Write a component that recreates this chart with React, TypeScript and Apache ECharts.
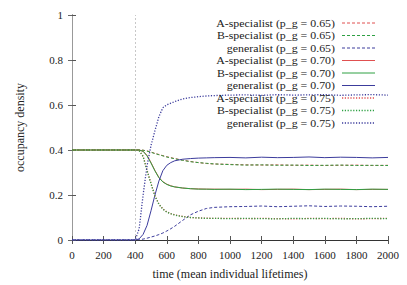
import React, { useEffect, useRef } from "react";
import * as echarts from "echarts";

const T = [0, 400, 425, 450, 475, 500, 525, 550, 575, 600, 625, 650, 700, 750, 800, 850, 900, 1000, 1100, 1200, 1300, 1400, 1500, 1600, 1700, 1800, 1900, 2000];

const S65A = [0.4, 0.4, 0.4, 0.399, 0.396, 0.391, 0.385, 0.38, 0.375, 0.37, 0.366, 0.362, 0.355, 0.349, 0.344, 0.34, 0.338, 0.336, 0.334, 0.333, 0.334, 0.332, 0.333, 0.331, 0.332, 0.333, 0.331, 0.332];
const S65B = [0.4, 0.4, 0.4, 0.399, 0.395, 0.39, 0.384, 0.379, 0.374, 0.369, 0.365, 0.361, 0.354, 0.348, 0.344, 0.341, 0.338, 0.335, 0.333, 0.334, 0.332, 0.333, 0.331, 0.332, 0.333, 0.331, 0.332, 0.331];
const G65 = [0, 0, 0.001, 0.004, 0.008, 0.013, 0.018, 0.024, 0.031, 0.04, 0.05, 0.061, 0.087, 0.112, 0.128, 0.14, 0.145, 0.148, 0.149, 0.151, 0.148, 0.15, 0.152, 0.149, 0.151, 0.15, 0.148, 0.15];

const S70A = [0.4, 0.4, 0.4, 0.395, 0.376, 0.344, 0.309, 0.278, 0.259, 0.248, 0.241, 0.236, 0.231, 0.228, 0.227, 0.226, 0.226, 0.225, 0.226, 0.224, 0.225, 0.226, 0.224, 0.225, 0.226, 0.224, 0.225, 0.225];
const S70B = [0.4, 0.4, 0.4, 0.394, 0.374, 0.342, 0.307, 0.277, 0.258, 0.247, 0.24, 0.236, 0.231, 0.228, 0.226, 0.226, 0.225, 0.226, 0.224, 0.225, 0.226, 0.225, 0.224, 0.226, 0.225, 0.224, 0.226, 0.225];
const G70 = [0, 0, 0.005, 0.025, 0.065, 0.13, 0.2, 0.262, 0.308, 0.332, 0.344, 0.352, 0.359, 0.362, 0.364, 0.365, 0.366, 0.367, 0.365, 0.368, 0.366, 0.367, 0.369, 0.366, 0.368, 0.367, 0.365, 0.367];

const S75A = [0.4, 0.4, 0.398, 0.373, 0.31, 0.252, 0.197, 0.16, 0.138, 0.125, 0.117, 0.112, 0.105, 0.1, 0.098, 0.097, 0.096, 0.096, 0.095, 0.096, 0.095, 0.094, 0.096, 0.095, 0.096, 0.094, 0.095, 0.096];
const S75B = [0.4, 0.4, 0.397, 0.371, 0.308, 0.25, 0.195, 0.159, 0.137, 0.124, 0.117, 0.111, 0.104, 0.1, 0.098, 0.096, 0.096, 0.095, 0.096, 0.095, 0.094, 0.096, 0.095, 0.096, 0.094, 0.095, 0.096, 0.095];
const G75 = [0, 0, 0.05, 0.2, 0.33, 0.42, 0.486, 0.548, 0.588, 0.601, 0.608, 0.615, 0.627, 0.633, 0.637, 0.64, 0.642, 0.644, 0.645, 0.643, 0.646, 0.644, 0.645, 0.646, 0.643, 0.645, 0.646, 0.644];

const NAMES = [
  "A-specialist (p_g = 0.65)",
  "B-specialist (p_g = 0.65)",
  "generalist (p_g = 0.65)",
  "A-specialist (p_g = 0.70)",
  "B-specialist (p_g = 0.70)",
  "generalist (p_g = 0.70)",
  "A-specialist (p_g = 0.75)",
  "B-specialist (p_g = 0.75)",
  "generalist (p_g = 0.75)",
];
const VALUES = [S65A, S65B, G65, S70A, S70B, G70, S75A, S75B, G75];

const X_MIN = 0;
const X_MAX = 2000;
const X_STEP = 200;
const Y_MIN = 0;
const Y_MAX = 1;
const Y_STEP = 0.2;
const SWITCH_TIME = 400;

const RED = "#e05050";
const GREEN = "#2ea043";
const BLUE = "#3c3c9c";
const COLORS = [RED, GREEN, BLUE, RED, GREEN, BLUE, RED, GREEN, BLUE];
const DASHES: (number[] | null)[] = [[3, 2], [3, 2], [3, 2], null, null, null, [1.2, 1.6], [1.2, 1.6], [1.2, 1.6]];
const WIDTHS = [1, 1, 1, 1, 1, 1, 1.3, 1.3, 1.3];

const FONT = "Liberation Serif";

export default function App() {
  const ref = useRef<HTMLDivElement>(null);
  useEffect(() => {
    if (!ref.current) return;
    const chart = echarts.init(ref.current, null, { renderer: "svg" });

    const series: any[] = NAMES.map((name, k) => ({
      name,
      type: "line",
      showSymbol: false,
      symbol: "none",
      xAxisIndex: 0,
      yAxisIndex: 0,
      data: T.map((t, i) => [t, VALUES[k][i]]),
      lineStyle: {
        color: COLORS[k],
        width: WIDTHS[k],
        type: DASHES[k] ? DASHES[k] : "solid",
      },
      itemStyle: { color: COLORS[k] },
      z: 2 + k,
    }));
    series[0].markLine = {
      silent: true,
      symbol: "none",
      label: { show: false },
      lineStyle: { color: "#c8c8c8", type: [2, 2], width: 1 },
      data: [{ xAxis: SWITCH_TIME }],
      z: 1,
    };

    const legendTop = 23;
    const legendStep = 12.5;
    const graphic: any[] = [];
    NAMES.forEach((name, i) => {
      const y = legendTop + i * legendStep;
      graphic.push({
        type: "text",
        x: 335,
        y,
        scaleX: 1.08,
        silent: true,
        z: 100,
        style: {
          text: name,
          fill: "#222",
          fontFamily: FONT,
          fontSize: 11,
          align: "right",
          verticalAlign: "middle",
        },
      });
      graphic.push({
        type: "line",
        silent: true,
        z: 100,
        shape: { x1: 342, y1: y, x2: 375, y2: y },
        style: {
          stroke: COLORS[i],
          lineWidth: WIDTHS[i],
          lineDash: DASHES[i] ? DASHES[i] : null,
        },
      });
    });

    const axisLabel = { fontFamily: FONT, fontSize: 11, color: "#222" };

    chart.setOption({
      animation: false,
      backgroundColor: "#fff",
      grid: { left: 72, right: 19, top: 15, bottom: 38, containLabel: false },
      xAxis: [
        {
          type: "value",
          min: X_MIN,
          max: X_MAX,
          interval: X_STEP,
          position: "bottom",
          name: "time (mean individual lifetimes)",
          nameLocation: "middle",
          nameGap: 28,
          nameTextStyle: { fontFamily: FONT, fontSize: 12, color: "#222" },
          axisLine: { show: true, lineStyle: { color: "#888", width: 1 } },
          axisTick: { show: true, inside: true, length: 4, lineStyle: { color: "#555" } },
          axisLabel: { ...axisLabel, margin: 9, formatter: (v: number) => String(v) },
          splitLine: { show: false },
        },
        {
          type: "value",
          min: X_MIN,
          max: X_MAX,
          interval: X_STEP,
          position: "top",
          axisLine: { show: true, lineStyle: { color: "#333", width: 1 } },
          axisTick: { show: true, inside: true, length: 4, lineStyle: { color: "#555" } },
          axisLabel: { show: false },
          splitLine: { show: false },
        },
      ],
      yAxis: [
        {
          type: "value",
          min: Y_MIN,
          max: Y_MAX,
          interval: Y_STEP,
          position: "left",
          name: "occupancy density",
          nameLocation: "middle",
          nameGap: 46,
          nameTextStyle: { fontFamily: FONT, fontSize: 12, color: "#222" },
          axisLine: { show: true, lineStyle: { color: "#333", width: 1 } },
          axisTick: { show: true, inside: true, length: 4, lineStyle: { color: "#555" } },
          axisLabel: { ...axisLabel, margin: 9 },
          splitLine: { show: false },
        },
        {
          type: "value",
          min: Y_MIN,
          max: Y_MAX,
          interval: Y_STEP,
          position: "right",
          axisLine: { show: true, lineStyle: { color: "#999", width: 1 } },
          axisTick: { show: true, inside: true, length: 4, lineStyle: { color: "#666" } },
          axisLabel: { show: false },
          splitLine: { show: false },
        },
      ],
      series,
      graphic,
    });
    return () => chart.dispose();
  }, []);

  return (
    <div
      ref={ref}
      style={{ position: "fixed", left: 0, top: 0, width: 407, height: 285 }}
    />
  );
}
